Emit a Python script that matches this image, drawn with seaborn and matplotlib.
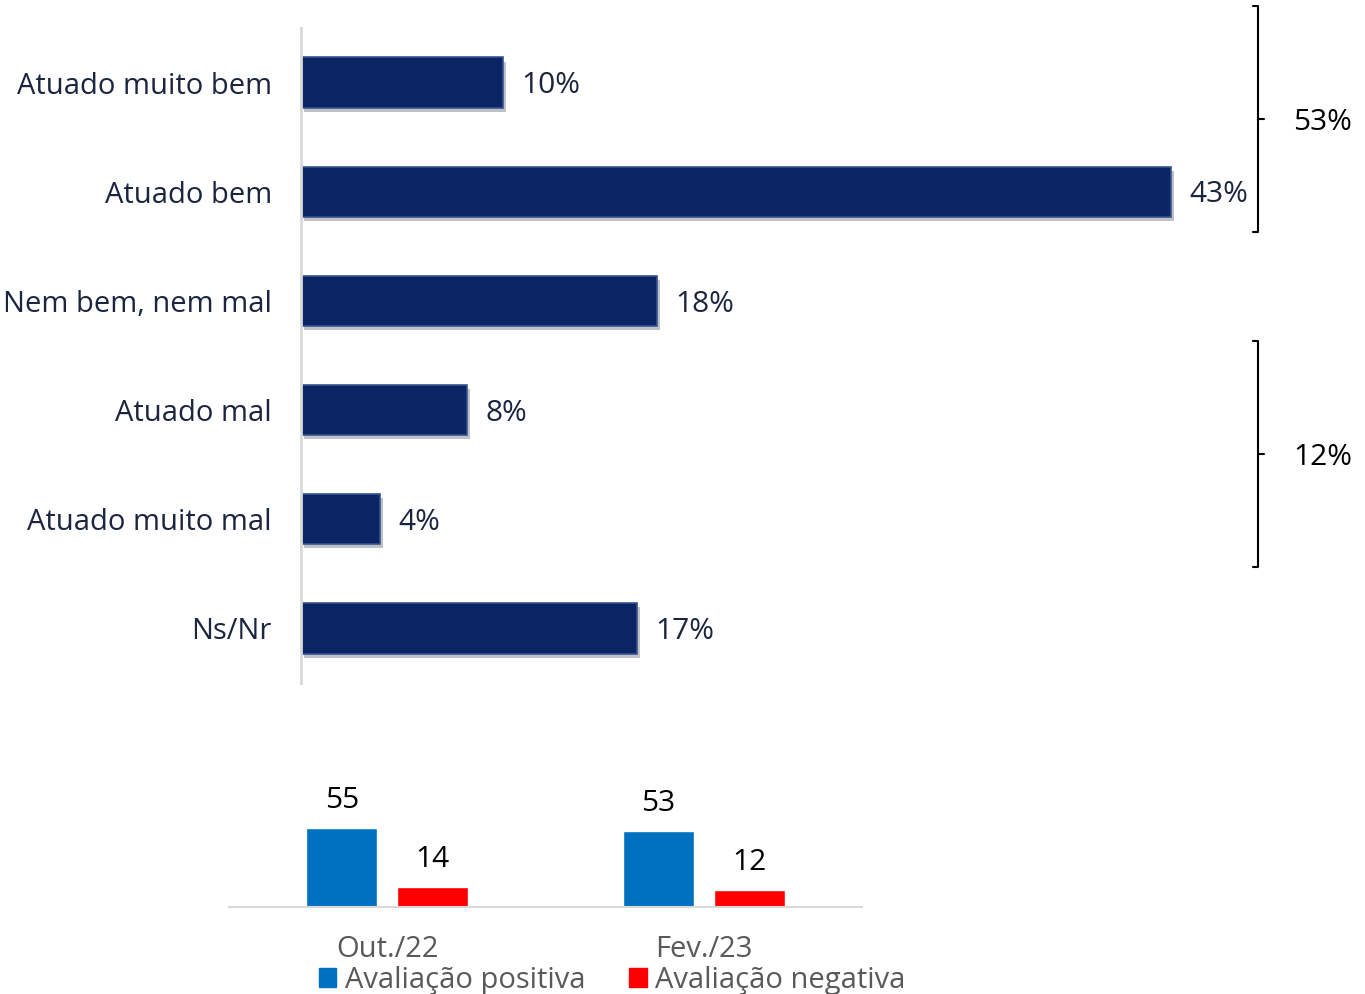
import pandas as pd
import matplotlib.pyplot as plt
import matplotlib.patheffects as pe
import seaborn as sns

# Dados - avaliação
categorias = ["Atuado muito bem", "Atuado bem", "Nem bem, nem mal",
              "Atuado mal", "Atuado muito mal", "Ns/Nr"]
valores = [10.0, 43.0, 17.6, 8.2, 3.9, 16.6]
rotulos = [10, 43, 18, 8, 4, 17]

# Dados - comparação
periodos = ["Out./22", "Fev./23"]
positiva = [55, 53]
negativa = [14, 12]
series = ["Avaliação positiva", "Avaliação negativa"]

sns.set_style("white")
plt.rcParams["font.family"] = ["Open Sans", "DejaVu Sans"]

fig = plt.figure(figsize=(13.65, 9.94), dpi=100)

# Gráfico principal
ax = fig.add_axes([0.2205, 0.3129, 0.7795, 0.659])
df = pd.DataFrame({"categoria": categorias, "valor": valores})
sns.barplot(data=df, x="valor", y="categoria", orient="h", color="#0B2463",
            saturation=1, width=0.46, ax=ax, edgecolor="#34548F", linewidth=1.2)
for p in ax.patches:
    p.set_path_effects([pe.SimplePatchShadow(offset=(2, -3), alpha=0.25), pe.Normal()])

ax.set_xlim(0, 52.6)
ax.set_ylim(5.5, -0.5)
ax.set_xlabel("")
ax.set_ylabel("")
ax.set_xticks([])
ax.tick_params(axis="y", length=0, pad=21, labelsize=21, labelcolor="#1C2540")
for s in ["top", "right", "bottom"]:
    ax.spines[s].set_visible(False)
ax.spines["left"].set_color("#D9D9D9")
ax.spines["left"].set_linewidth(2)

for i, (v, r) in enumerate(zip(valores, rotulos)):
    ax.text(v + 0.9, i + 0.03, f"{r}%", va="center", ha="left", fontsize=21.5, color="#1C2540")

# Chaves de agrupamento
grupos = [(0, 1, -0.7, 0.37), (3, 4, -0.63, 0.44)]
bx = 47.3
for a, b, da, db in grupos:
    y0, y1 = a + da, b + db
    ym = (y0 + y1) / 2
    ax.plot([bx - 0.25, bx, bx, bx - 0.25], [y0, y0, y1, y1], color="black",
            lw=1.5, clip_on=False)
    ax.plot([bx, bx + 0.3], [ym, ym], color="black", lw=1.5, clip_on=False)
    total = sum(rotulos[a:b + 1])
    ax.text(bx + 1.75, ym + 0.03, f"{total}%", va="center", ha="left", fontsize=21.5, color="black")

# Gráfico de comparação
ax2 = fig.add_axes([0.1678, 0.0875, 0.4637, 0.1278])
df2 = pd.DataFrame({
    "periodo": periodos * 2,
    "valor": positiva + negativa,
    "serie": [series[0]] * 2 + [series[1]] * 2,
})
sns.barplot(data=df2, x="periodo", y="valor", hue="serie", saturation=1,
            palette=["#0070C0", "#FF0000"], width=0.575, gap=0.22,
            ax=ax2, legend=False)
for c in ax2.containers:
    ax2.bar_label(c, padding=9, fontsize=21.5, color="black")
ax2.set_xlim(-0.5, 1.5)
ax2.set_ylim(0, 88.4)
ax2.set_xlabel("")
ax2.set_ylabel("")
ax2.set_yticks([])
ax2.tick_params(axis="x", length=0, pad=20, labelsize=21, labelcolor="#595959")
for s in ["top", "right", "left"]:
    ax2.spines[s].set_visible(False)
ax2.spines["bottom"].set_color("#D9D9D9")
ax2.spines["bottom"].set_linewidth(1.5)
ax2.patch.set_alpha(0)

handles = [plt.Rectangle((0, 0), 1, 1, color=c) for c in ["#0070C0", "#FF0000"]]
leg = fig.legend(handles, series, loc="center", bbox_to_anchor=(0.4484, 0.014),
                 ncol=2, frameon=False, fontsize=21, handlelength=0.6, handleheight=0.6,
                 handletextpad=0.3, columnspacing=1.5, borderpad=0)
for t in leg.get_texts():
    t.set_color("#595959")

fig.savefig("out.png", dpi=100)
